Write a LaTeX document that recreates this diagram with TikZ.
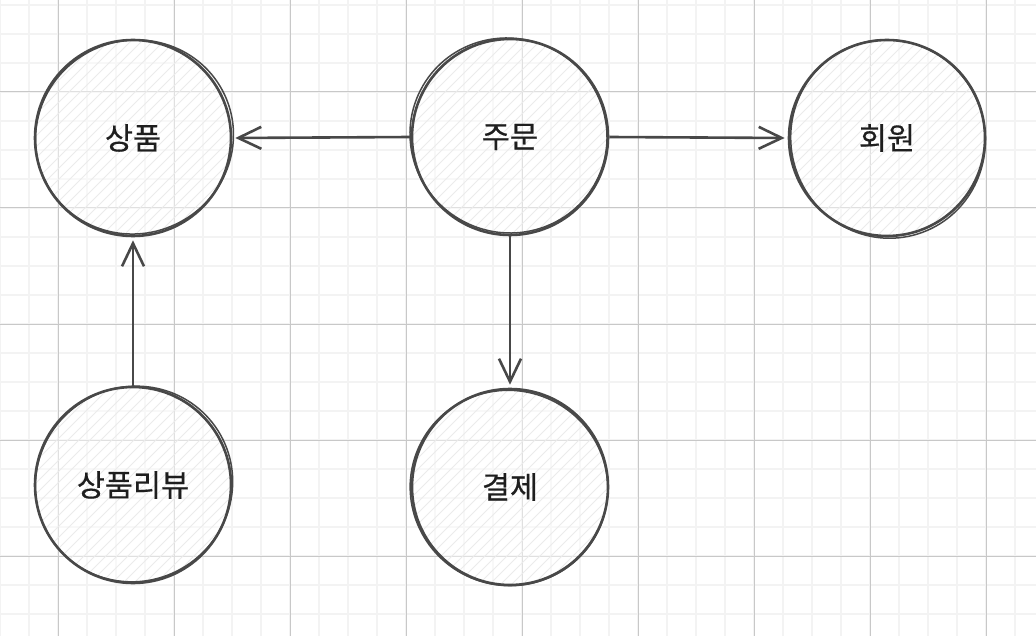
\documentclass[tikz,border=0pt]{standalone}
\usepackage{fontspec}
\newfontfamily\kr{Noto Sans CJK KR}[FakeBold=0.5]
\usetikzlibrary{arrows.meta,calc}
\definecolor{ink}{HTML}{484848}
\definecolor{txt}{HTML}{1E1E1E}
\definecolor{gminor}{HTML}{F3F3F3}
\definecolor{gmajor}{HTML}{C8C8C8}
\definecolor{hatchc}{HTML}{EBEBEB}
\begin{document}
\begin{tikzpicture}[x=1pt,y=-1pt,
  ent/.style={circle, minimum size=196pt, inner sep=0pt, draw=ink, line width=2.6pt,
    text=txt, font=\kr\fontsize{30.5}{34}\selectfont,
    path picture={
      \fill[white, opacity=.45] (path picture bounding box.south west) rectangle (path picture bounding box.north east);
      \foreach \i in {-14,...,14}
        \draw[hatchc, line width=1pt] ($(path picture bounding box.center)+(\i*11-150,150)$) -- ++(300,-300);
    }},
  skl/.style={draw=ink, line width=1.5pt},
  arr/.style={draw=ink, line width=2.6pt, shorten >=3pt,
    -{Straight Barb[length=23pt,width=22pt,line width=2.6pt]}},
  arr2/.style={draw=ink, line width=1.2pt}
]
\useasboundingbox (0,0) rectangle (1036,636);
\fill[white] (0,0) rectangle (1036,636);
% grid
\foreach \x in {0,29,...,1036} \draw[gminor, line width=1.3pt] (\x,0) -- (\x,636);
\foreach \y in {5,34,...,636} \draw[gminor, line width=1.3pt] (0,\y) -- (1036,\y);
\foreach \x in {58,174,...,1036} \draw[gmajor, line width=1pt] (\x,0) -- (\x,636);
\foreach \y in {92,208,...,636} \draw[gmajor, line width=1pt] (0,\y) -- (1036,\y);

% entities
\node[ent] (sangpum) at (133,138) {상품};
\node[ent] (jumun)   at (510,137) {주문};
\node[ent] (hoewon)  at (887,138) {회원};
\node[ent] (review)  at (133,485) {상품리뷰};
\node[ent] (gyeolje) at (510,487) {결제};

% sketchy second strokes
\draw[skl] ($(sangpum.center)+(1.5,-1)$) circle [x radius=99.5pt, y radius=96.5pt, rotate=25];
\draw[skl] ($(jumun.center)+(-1.5,-1.5)$) circle [x radius=99pt, y radius=97pt, rotate=-30];
\draw[skl] ($(hoewon.center)+(1,1)$) circle [x radius=97pt, y radius=99.5pt, rotate=20];
\draw[skl] ($(review.center)+(1,-1)$) circle [x radius=99.5pt, y radius=97pt, rotate=35];
\draw[skl] ($(gyeolje.center)+(-1,1)$) circle [x radius=99pt, y radius=97.5pt, rotate=-20];

% connectors
\draw[arr] (jumun.west) -- (sangpum.east);
\draw[arr] (jumun.east) -- (hoewon.west);
\draw[arr] (jumun.south) -- (gyeolje.north);
\draw[arr] (review.north) -- (sangpum.south);
\end{tikzpicture}
\end{document}
